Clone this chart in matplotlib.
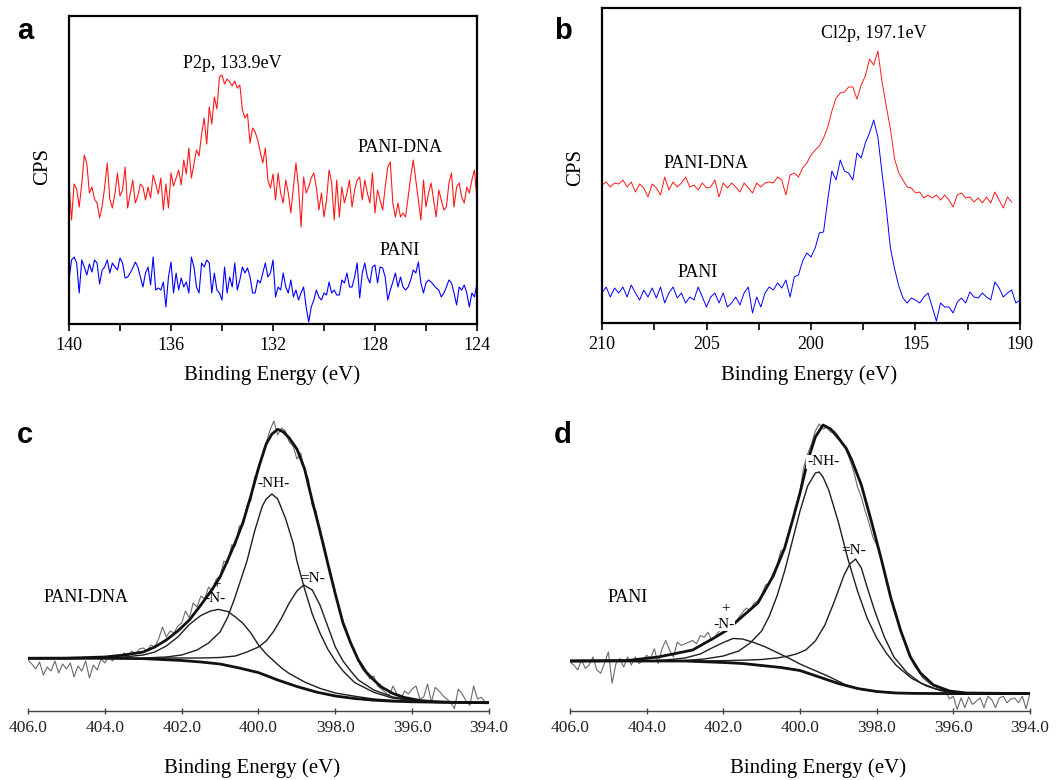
import numpy as np
import matplotlib
matplotlib.use('Agg')
import matplotlib.pyplot as plt

plt.rcParams['font.family'] = ['Liberation Serif', 'DejaVu Serif']

W, H = 1062, 780

# ---- panel a: P2p region, 140 -> 124 eV, 0.1 eV steps ----
a_red = [141, 104, 140, 135, 117, 140, 169, 160, 131, 137,
         125, 121, 106, 118, 137, 161, 125, 116, 130, 151,
         128, 134, 157, 116, 130, 144, 121, 128, 140, 137,
         124, 137, 126, 149, 140, 130, 146, 114, 140, 116,
         151, 138, 146, 154, 139, 164, 150, 176, 146, 160,
         174, 168, 190, 206, 180, 217, 200, 227, 215, 247,
         249, 240, 245, 242, 238, 243, 236, 239, 214, 206,
         210, 181, 196, 192, 184, 172, 161, 176, 144, 136,
         150,
         124, 151, 131, 121, 144, 131, 111, 137, 161, 137,
         97, 147, 131, 137, 146, 151, 137, 114, 131, 107,
         124, 154, 141, 104, 144, 107, 137, 121, 131, 144,
         117, 134, 144, 147, 124, 144, 131, 121, 151, 111,
         134, 124, 114, 137, 157, 162, 121, 107, 121, 107,
         111, 107, 127, 147, 164, 144, 124, 104, 144, 117,
         131, 141, 124, 107, 134, 124, 114, 117, 141, 151,
         117, 137, 141, 127, 121, 137, 131, 144, 154, 124]
a_blue = [44, 64, 67, 61, 31, 64, 57, 49, 60, 52,
          64, 61, 40, 54, 57, 64, 51, 61, 57, 54,
          66, 61, 46, 47, 51, 56, 62, 57, 47, 37,
          51, 57, 39, 67, 34, 36, 34, 42, 17, 47,
          62, 31, 51, 34, 46, 37, 42, 31, 67, 57,
          37, 31, 61, 57, 64, 61, 31, 51, 34, 31,
          24, 57, 31, 47, 37, 61, 34, 44, 57, 51,
          56, 47, 31, 31, 44, 41, 51, 61, 47, 51,
          64,
          27, 37, 34, 51, 37, 31, 44, 27, 34, 24,
          31, 37, 17, 2, 17, 24, 34, 27, 24, 31,
          29, 42, 31, 34, 29, 29, 44, 41, 51, 37,
          37, 47, 61, 26, 51, 61, 47, 41, 57, 59,
          41, 57, 56, 47, 24, 34, 42, 51, 37, 47,
          37, 34, 37, 44, 54, 51, 62, 41, 31, 41,
          44, 42, 39, 36, 34, 27, 31, 37, 44, 41,
          31, 19, 37, 34, 39, 31, 17, 31, 27, 41]
a_ticks = [140, 136, 132, 128, 124]
a_minor = [138, 134, 130, 126]

# ---- panel b: Cl2p region, 210 -> 190 eV, 0.2 eV steps ----
b_red = [138, 141, 136, 140, 139, 143, 136, 141, 131, 139,
         135, 126, 139, 135, 128, 146, 133, 141, 136, 140,
         146, 136, 138, 133, 140, 135, 136, 143, 126, 140,
         135, 140, 136, 131, 140, 135, 130, 140, 136, 140,
         141, 140, 146, 143, 128, 148, 150, 146, 155, 160,
         168,
         173, 177, 185, 196, 212, 225, 230, 231, 236, 236,
         224, 238, 247, 264, 258, 272, 241, 217, 194, 164,
         150, 143, 136, 135, 130, 131, 125, 128, 125, 128,
         123, 128, 123, 116, 128, 130, 125, 126, 121, 125,
         120, 126, 120, 131, 123, 115, 126, 121]
b_blue = [30, 36, 26, 35, 30, 36, 26, 38, 30, 23,
          33, 26, 35, 25, 36, 20, 30, 36, 25, 30,
          20, 26, 23, 36, 26, 16, 26, 30, 20, 30,
          16, 20, 26, 18, 30, 36, 10, 26, 16, 30,
          36, 33, 40, 35, 43, 26, 46, 48, 62, 70,
          66,
          75, 90, 91, 123, 152, 143, 163, 152, 150, 143,
          170, 165, 180, 190, 203, 186, 150, 115, 75, 54,
          37, 25, 20, 25, 23, 20, 26, 30, 16, 2,
          20, 16, 16, 10, 21, 25, 20, 31, 26, 25,
          30, 26, 23, 41, 35, 26, 30, 33, 20, 23]
b_ticks = [210, 205, 200, 195, 190]
b_minor = [207.5, 202.5, 197.5, 192.5]

# ---- panel c: N1s PANI-DNA, 406 -> 394 eV ----
c_raw = [51, 47, 42, 49, 36, 44, 40, 50, 38, 47,
         42, 48, 34, 45, 40, 50, 33, 46, 41, 52,
         48, 54, 50, 56, 52, 58, 55, 60, 57, 62,
         63, 60, 66, 64, 72, 84, 74, 80, 78, 85,
         88, 100, 93, 108, 104, 115, 112, 124, 120, 132,
         135, 150, 148, 166, 165, 185, 186, 206, 210, 234,
         240, 256, 268, 281, 290, 276, 283, 280, 269, 265,
         252, 258, 240, 232, 205, 200, 176, 168, 150, 134,
         118, 100, 90, 80, 67, 58, 50, 42, 38, 32,
         35, 25, 22, 18.7, 15.4, 25, 17, 12, 20, 17,
         22, 25, 12, 13.8, 27, 8.9, 23.6, 20, 15.4, 12,
         8.9, 2.3, 22, 17, 10.5, 5.6, 25, 12, 13.8, 8.9,
         8.9]
c_env_x = [406.0, 405.0, 404.0, 403.5, 403.0, 402.7, 402.4, 402.1, 401.8, 401.5,
           401.2, 401.0, 400.8, 400.6, 400.4, 400.2, 400.0, 399.8, 399.65, 399.5,
           399.35, 399.2, 399.0, 398.8, 398.6, 398.4, 398.2, 398.0, 397.8, 397.6,
           397.4, 397.2, 397.0, 396.8, 396.5, 396.2, 395.8, 395.4, 395.0, 394.0]
c_env_y = [52.7, 52.8, 54, 56, 59, 64, 71, 80, 91, 106,
           122, 134, 151, 169, 189, 215, 243, 267, 277, 281.7,
           279, 273, 262, 242, 210, 180, 148, 117, 88, 68,
           51, 39, 31, 24, 17.5, 13.5, 10.5, 9.2, 8.7, 8.3]
c_nh_x = [403.0, 402.4, 402.0, 401.6, 401.3, 401.0, 400.8, 400.6, 400.3, 400.1,
          399.9, 399.8, 399.65, 399.5, 399.3, 399.1, 399.0, 398.8, 398.6, 398.4,
          398.2, 398.0, 397.8, 397.5, 397.0, 396.5, 396.0, 395.5, 395.0]
c_nh_y = [53, 54, 56, 61, 68, 79, 94, 115, 150, 180,
          205, 212, 217, 212, 193, 168, 150, 122, 97, 78,
          62, 50, 40, 28.5, 18.7, 12.8, 10.5, 9.5, 8.8]
c_imine_x = [402.5, 401.5, 401.0, 400.6, 400.3, 400.0, 399.8, 399.6, 399.4, 399.2,
             399.0, 398.82, 398.6, 398.4, 398.2, 398.0, 397.8, 397.6, 397.4, 397.0,
             396.5, 396.0, 395.5, 395.0]
c_imine_y = [53, 53, 53.5, 55, 59, 64, 70, 80, 93, 108,
             120, 126, 121, 106, 85, 64, 50, 40, 31, 21,
             14, 11, 9.6, 8.8]
c_plus_x = [404.0, 403.5, 403.0, 402.7, 402.4, 402.1, 401.8, 401.5, 401.25, 401.05,
            400.8, 400.6, 400.4, 400.2, 400.0, 399.8, 399.6, 399.4, 399.2, 398.8,
            398.4, 398.0, 397.5, 397.0, 396.5, 396.0, 395.5, 395.0]
c_plus_y = [53, 54, 56, 59, 65, 74, 86.5, 95.5, 100, 101.6,
            99.5, 94, 87.5, 78, 66, 57, 50, 43, 37.5, 29,
            22.6, 18, 14.8, 12, 10.5, 9.5, 9, 8.7]
c_bg_x = [406.0, 404.0, 403.0, 402.0, 401.5, 401.0, 400.5, 400.0, 399.5, 399.0,
          398.5, 398.0, 397.5, 397.0, 396.5, 396.0, 395.0, 394.0]
c_bg_y = [52.7, 52.7, 52.4, 50.5, 49, 47, 43, 38.4, 31, 24.5,
          19, 15, 12.5, 10.8, 9.8, 9.2, 8.6, 8.3]

# ---- panel d: N1s PANI ----
d_raw = [49, 46, 41, 51, 42.6, 46, 54, 41, 37.7, 47.5,
         59, 27.9, 47.5, 52.5, 44, 54, 46, 54, 47.5, 50.8,
         55.7, 52.5, 62.3, 47.5, 62.3, 70.5, 60.7, 54, 68.9, 65.6,
         67.2, 68.9, 70.5, 67.2, 75.4, 73.8, 78.7, 70.5, 75.4, 80,
         82, 84, 85, 88, 93.4, 98.4, 103, 100, 108, 110,
         116, 126, 128, 138, 146, 160, 162, 178, 190, 205,
         220, 244, 257, 267, 280, 287, 282, 283.6, 278.7, 280,
         275, 267, 262, 251, 240, 224, 214, 200, 188, 174,
         166, 156, 138, 126, 108, 98, 82, 72, 60, 52,
         44, 40, 33, 30, 27, 26, 22, 21, 19, 12,
         14.8, 1.6, 13, 3.3, 14, 6.6, 9.8, 13, 3.3, 14.8,
         11.5, 3.3, 13, 14.8, 8.2, 12, 13, 8.2, 14.8, 2.3,
         18]
d_env_x = [406.0, 404.5, 403.7, 402.8, 402.2, 401.9, 401.55, 401.1, 400.7, 400.4,
           400.2, 400.0, 399.8, 399.6, 399.4, 399.2, 398.98, 398.8, 398.65, 398.4,
           398.14, 397.88, 397.63, 397.37, 397.12, 396.86, 396.52, 396.1, 395.67, 394.0]
d_env_y = [50, 50.5, 54, 61, 74, 81, 93, 108, 135, 163,
           190, 218, 250, 274, 286, 282, 272, 263, 251, 226,
           190, 152, 113, 80, 54, 38, 26, 20, 18, 17.4]
d_nh_x = [403.0, 402.5, 402.0, 401.6, 401.3, 401.0, 400.8, 400.6, 400.4, 400.2,
          400.0, 399.8, 399.6, 399.5, 399.4, 399.25, 399.0, 398.75, 398.5, 398.25,
          398.0, 397.75, 397.5, 397.1, 396.7, 396.3, 395.8, 395.0]
d_nh_y = [50.5, 52, 55, 60, 68, 80, 95, 115, 140, 170,
          200, 225, 238, 239, 234, 221, 189, 152, 120, 93,
          73, 58, 46, 33, 25, 20, 18, 17.5]
d_imine_x = [402.8, 402.0, 401.5, 401.0, 400.6, 400.3, 400.1, 399.85, 399.6, 399.35,
             399.1, 398.85, 398.7, 398.55, 398.4, 398.25, 398.05, 397.8, 397.55, 397.2,
             396.85, 396.45, 396.0, 395.5, 395.0]
d_imine_y = [50, 50.3, 50.8, 51.5, 53, 55, 57, 61, 70, 86,
             110, 136, 147, 152, 143, 124, 100, 74, 54, 38,
             28, 22, 19, 17.8, 17.5]
d_plus_x = [404.0, 403.5, 403.0, 402.6, 402.3, 402.0, 401.75, 401.5, 401.2, 400.9,
            400.6, 400.3, 400.0, 399.7, 399.25, 398.8, 398.4, 398.0, 397.5, 397.0,
            396.0]
d_plus_y = [50, 51, 53, 57, 63, 68.5, 72.5, 72, 68.5, 64,
            58.5, 53, 47, 42, 34.5, 26, 21.5, 19.5, 18, 17.6,
            17.4]
d_bg_x = [406.0, 403.0, 402.0, 401.5, 401.0, 400.5, 400.0, 399.5, 399.0, 398.5,
          398.0, 397.5, 397.0, 396.0, 394.0]
d_bg_y = [50, 50, 48.5, 47.5, 45.5, 43.5, 40.5, 34, 27.5, 22.5,
          19.5, 18, 17.6, 17.4, 17.4]
n1s_ticks = [406, 404, 402, 400, 398, 396, 394]


def box(l, t, r, b):
    return [l / W, 1 - b / H, (r - l) / W, (b - t) / H]


fig = plt.figure(figsize=(W / 100, H / 100), dpi=100)


def survey_axes(rect, xlim, ylim, ticks, minor):
    ax = fig.add_axes(rect)
    ax.set_xlim(*xlim)
    ax.set_ylim(*ylim)
    ax.set_xticks(ticks)
    ax.set_xticklabels([str(t) for t in ticks], fontsize=13)
    ax.set_xticks(minor, minor=True)
    ax.set_yticks([])
    ax.tick_params(axis='x', which='both', direction='out', length=5,
                   width=1.2, pad=4)
    for s in ax.spines.values():
        s.set_linewidth(1.6)
    return ax


# panel a
ax = survey_axes(box(69, 16, 477, 324), (140, 124), (0, 308), a_ticks, a_minor)
a_x = np.linspace(140, 124, len(a_red))
ax.plot(a_x, a_red, color='#ff1a1a', lw=0.8)
ax.plot(a_x, a_blue, color='#0000ff', lw=0.8)
ax.text(133.6, 261, 'P2p, 133.9eV', fontsize=13, ha='center', va='center')
ax.text(127.0, 177, 'PANI-DNA', fontsize=13, ha='center', va='center')
ax.text(127.05, 74, 'PANI', fontsize=13, ha='center', va='center')
ax.set_xlabel('Binding Energy (eV)', fontsize=15, va='center')
ax.xaxis.set_label_coords(0.4975, -0.166)
ax.set_ylabel('CPS', fontsize=15, va='center', ha='center')
ax.yaxis.set_label_coords(-0.064, 0.51)

# panel b
ax = survey_axes(box(602, 8, 1020, 323), (210, 190), (0, 315), b_ticks, b_minor)
ax.plot(np.linspace(210, 190.4, len(b_red)), b_red, color='#ff1a1a', lw=0.7)
ax.plot(np.linspace(210, 190, len(b_blue)), b_blue, color='#0000ff', lw=0.7)
ax.text(197.0, 290, 'Cl2p, 197.1eV', fontsize=13, ha='center', va='center')
ax.text(205.0, 160, 'PANI-DNA', fontsize=13, ha='center', va='center')
ax.text(205.4, 51, 'PANI', fontsize=13, ha='center', va='center')
ax.set_xlabel('Binding Energy (eV)', fontsize=15, va='center')
ax.xaxis.set_label_coords(0.495, -0.165)
ax.set_ylabel('CPS', fontsize=15, va='center', ha='center')
ax.yaxis.set_label_coords(-0.062, 0.495)


def n1s_axes(rect):
    ax = fig.add_axes(rect)
    ax.set_xlim(406, 394)
    ax.set_ylim(0, 311)
    for k in ('top', 'left', 'right'):
        ax.spines[k].set_visible(False)
    ax.spines['bottom'].set_color('#444444')
    ax.spines['bottom'].set_linewidth(1.0)
    ax.set_yticks([])
    ax.set_xticks(n1s_ticks)
    ax.set_xticklabels(['%.1f' % t for t in n1s_ticks], fontsize=12.5,
                       color='#222222')
    ax.tick_params(axis='x', direction='inout', length=5, width=1.0,
                   color='#444444', pad=4)
    ax.set_xlabel('Binding Energy (eV)', fontsize=15, va='center')
    ax.patch.set_alpha(0)
    return ax


def draw_fit(ax, raw, env, comps, bg):
    ax.plot(np.linspace(406, 394, len(raw)), raw, color='#6a6a6a', lw=0.8)
    for cx, cy in comps:
        ax.plot(cx, cy, color='#1e1e1e', lw=1.0)
    ax.plot(bg[0], bg[1], color='#111111', lw=2.0)
    ax.plot(env[0], env[1], color='#111111', lw=2.0)


# panel c
ax = n1s_axes(box(28, 400, 489, 711))
draw_fit(ax, c_raw, (c_env_x, c_env_y),
         [(c_nh_x, c_nh_y), (c_imine_x, c_imine_y), (c_plus_x, c_plus_y)],
         (c_bg_x, c_bg_y))
ax.text(404.49, 113, 'PANI-DNA', fontsize=13, ha='center', va='center')
ax.text(399.62, 227, '-NH-', fontsize=11, ha='center', va='center')
ax.text(398.58, 133, '=N-', fontsize=11, ha='center', va='center')
ax.text(401.08, 126, '+', fontsize=11, ha='center', va='center')
ax.text(401.13, 112, '-N-', fontsize=11, ha='center', va='center')
ax.xaxis.set_label_coords(0.486, -0.183)

# panel d
ax = n1s_axes(box(570, 400, 1030, 711))
draw_fit(ax, d_raw, (d_env_x, d_env_y),
         [(d_nh_x, d_nh_y), (d_imine_x, d_imine_y), (d_plus_x, d_plus_y)],
         (d_bg_x, d_bg_y))
lab = dict(facecolor='white', edgecolor='none', pad=0.6)
ax.text(404.49, 113, 'PANI', fontsize=13, ha='center', va='center')
ax.text(399.4, 249, '-NH-', fontsize=11, ha='center', va='center', bbox=lab)
ax.text(398.59, 160, '=N-', fontsize=11, ha='center', va='center')
ax.text(401.93, 102, '+', fontsize=11, ha='center', va='center', bbox=lab)
ax.text(401.98, 87, '-N-', fontsize=11, ha='center', va='center', bbox=lab)
ax.xaxis.set_label_coords(0.539, -0.183)

# panel letters
for s, x, y in [('a', 17, 39), ('b', 554, 39), ('c', 17, 443), ('d', 554, 443)]:
    fig.text(x / W, 1 - y / H, s, fontsize=21, fontweight='bold',
             family=['Liberation Sans', 'DejaVu Sans'], ha='left', va='baseline')

fig.savefig('out.png', dpi=100)
